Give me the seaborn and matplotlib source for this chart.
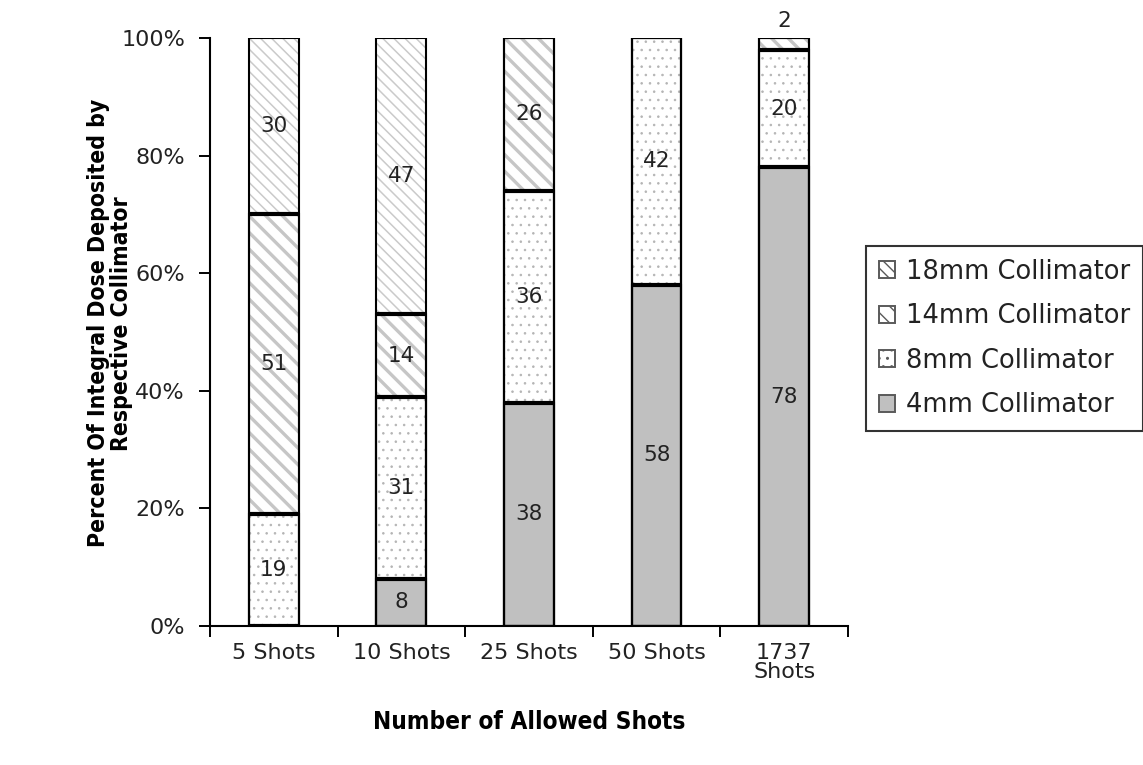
import matplotlib
matplotlib.use("Agg")
import matplotlib.pyplot as plt
import seaborn as sns
import pandas as pd
import numpy as np

# Data (percent of integral dose)
categories = ['5 Shots', '10 Shots', '25 Shots', '50 Shots', '1737\nShots']
mm4 = [0, 8, 38, 58, 78]
mm8 = [19, 31, 36, 42, 20]
mm14 = [51, 14, 26, 0, 2]
mm18 = [30, 47, 0, 0, 0]
series_names = ['4mm Collimator', '8mm Collimator', '14mm Collimator', '18mm Collimator']
y_ticks = [0, 20, 40, 60, 80, 100]
y_tick_labels = ['0%', '20%', '40%', '60%', '80%', '100%']

sns.set_theme(style="white")
plt.rcParams['font.family'] = ['DejaVu Sans']
plt.rcParams['hatch.linewidth'] = 1.0

# fill, hatch, hatch colour and hatch width for each collimator layer
styles = {
    '4mm Collimator': dict(facecolor='#C0C0C0', hatch='', hcolor='#C0C0C0', hlw=1.0),
    '8mm Collimator': dict(facecolor='white', hatch='..', hcolor='#B4B4B4', hlw=0.6),
    '14mm Collimator': dict(facecolor='white', hatch='\\\\', hcolor='#C6C6C6', hlw=2.4),
    '18mm Collimator': dict(facecolor='white', hatch='\\\\\\', hcolor='#CACACA', hlw=1.1),
}

df = pd.DataFrame({'shots': categories, '4mm Collimator': mm4, '8mm Collimator': mm8,
                   '14mm Collimator': mm14, '18mm Collimator': mm18})
# cumulative tops of each stacked layer
cum = df[series_names].cumsum(axis=1)
cum.insert(0, 'shots', categories)

fig = plt.figure(figsize=(11.43, 7.65), dpi=100)
ax = fig.add_axes([0.1837, 0.1817, 0.5582, 0.7686])

bar_w = 0.39
# draw tallest cumulative layer first, each shorter one covers the lower part
for name in series_names[::-1]:
    st = styles[name]
    n0 = len(ax.patches)
    sns.barplot(data=cum, x='shots', y=name, width=bar_w, ax=ax,
                color=st['facecolor'], hatch=st['hatch'], edgecolor=st['hcolor'],
                linewidth=0, saturation=1, label=name)
    for p in ax.patches[n0:]:
        if hasattr(p, 'set_hatch_linewidth'):
            p.set_hatch_linewidth(st['hlw'])
for name in series_names[::-1]:
    sns.barplot(data=cum, x='shots', y=name, width=bar_w, ax=ax,
                color='black', fill=False, edgecolor='black', linewidth=1.5)

# value labels and thick boundaries between segments
prev = np.zeros(len(categories))
for k, name in enumerate(series_names):
    vals = df[name].values
    tops = cum[name].values
    for i, v in enumerate(vals):
        if k < len(series_names) - 1 and tops[i] < 100:
            ax.hlines(tops[i], i - bar_w / 2, i + bar_w / 2, color='black', linewidth=3, zorder=5)
        if v <= 0:
            continue
        if v < 5:
            ax.text(i, tops[i] + 1.2, f"{v}", ha='center', va='bottom', fontsize=15.5,
                    color='#222222')
        else:
            ax.text(i, prev[i] + v / 2, f"{v}", ha='center', va='center', fontsize=15.5,
                    color='#222222')
    prev = tops

ax.set_xlim(-0.5, len(categories) - 0.5)
ax.set_ylim(0, 100)
ax.set_yticks(y_ticks)
ax.set_yticklabels(y_tick_labels, fontsize=16, color='#222222')
ax.set_xticks(range(len(categories)))
ax.set_xticklabels(categories, fontsize=16, color='#222222', linespacing=0.95)
ax.set_xticks(np.arange(-0.5, len(categories)), minor=True)
ax.tick_params(axis='x', which='major', length=0, pad=12)
ax.tick_params(axis='x', which='minor', length=8, width=1.4, color='black', direction='out', bottom=True)
ax.tick_params(axis='y', length=8, width=1.4, color='black', direction='out', left=True, pad=10)

for side in ['top', 'right']:
    ax.spines[side].set_visible(False)
for side in ['left', 'bottom']:
    ax.spines[side].set_color('black')
    ax.spines[side].set_linewidth(1.5)

ax.set_xlabel('Number of Allowed Shots', fontsize=17.5, fontweight='bold',
              fontstretch='condensed', color='black', labelpad=20)
ax.set_ylabel('Percent Of Integral Dose Deposited by\nRespective Collimator', fontsize=16.5,
              fontweight='bold', fontstretch='condensed', color='black', linespacing=1.0)
ax.yaxis.set_label_coords(-0.12, 0.515)

handles, labels = ax.get_legend_handles_labels()
leg = ax.legend(handles, labels, loc='center left', bbox_to_anchor=(0.7577, 0.5575),
                bbox_transform=fig.transFigure, frameon=True, fancybox=False, fontsize=18.5,
                handlelength=0.62, handleheight=0.62, handletextpad=0.45, labelspacing=0.72,
                borderpad=0.5, borderaxespad=0)
leg.get_frame().set_edgecolor('black')
leg.get_frame().set_linewidth(1.5)
for h in leg.legend_handles:
    h.set_linewidth(1.4)
    h.set_edgecolor('#5A5A5A')
for t in leg.get_texts():
    t.set_color('#222222')

fig.savefig('out.png', dpi=100)
